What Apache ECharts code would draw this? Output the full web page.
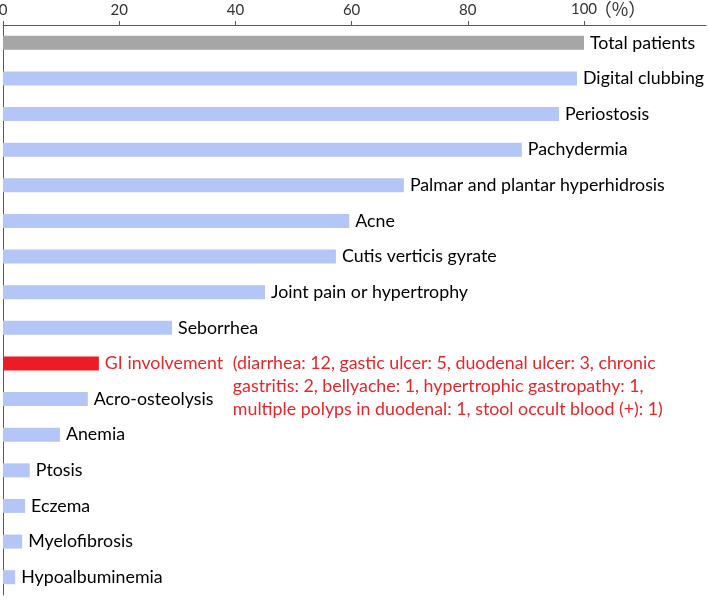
<!DOCTYPE html>
<html>
<head>
<meta charset="utf-8">
<script src="https://cdn.jsdelivr.net/npm/echarts@6/dist/echarts.min.js"></script>
<style>html,body{margin:0;padding:0;background:#fff}#c{width:709px;height:615px}</style>
</head>
<body>
<div id="c"></div>
<script>
const categories = ['Total patients','Digital clubbing','Periostosis','Pachydermia','Palmar and plantar hyperhidrosis','Acne','Cutis verticis gyrate','Joint pain or hypertrophy','Seborrhea','GI involvement','Acro-osteolysis','Anemia','Ptosis','Eczema','Myelofibrosis','Hypoalbuminemia'];
const values = [100, 98.8, 95.7, 89.3, 69.0, 59.6, 57.3, 45.1, 29.1, 16.5, 14.6, 9.8, 4.6, 3.8, 3.3, 2.1];
const xTicks = [0, 20, 40, 60, 80, 100];
const giDetails = ['(diarrhea: 12, gastic ulcer: 5, duodenal ulcer: 3, chronic','gastritis: 2, bellyache: 1, hypertrophic gastropathy: 1,','multiple polyps in duodenal: 1, stool occult blood (+): 1)'];

const FONT = 'Lato';
const FS = 17.8;
const AFS = 15;
const data = categories.map((name, i) => {
  let color = '#b4c6f6';
  if (name === 'Total patients') color = '#a6a6a6';
  if (name === 'GI involvement') color = '#ec1c24';
  const item = { value: values[i], itemStyle: { color } };
  if (name === 'GI involvement') {
    item.label = {
      formatter: '{a|GI involvement}{b|' + giDetails[0] + '}\n{c|' + giDetails[1] + '}\n{c|' + giDetails[2] + '}',
      offset: [0, 23],
      rich: {
        a: { color: '#e8262a', fontFamily: FONT, fontSize: FS, width: 128, lineHeight: 23 },
        b: { color: '#e8262a', fontFamily: FONT, fontSize: FS, lineHeight: 23 },
        c: { color: '#e8262a', fontFamily: FONT, fontSize: FS, lineHeight: 23, padding: [0, 0, 0, 128] }
      }
    };
  }
  return item;
});

const chart = echarts.init(document.getElementById('c'), null, { renderer: 'canvas' });
chart.setOption({
  animation: false,
  grid: { left: 3, right: 3, top: 25, bottom: 20, containLabel: false, outerBoundsMode: 'none' },
  xAxis: {
    type: 'value', position: 'top', min: 0, max: 121, interval: 20,
    axisLine: { show: true, lineStyle: { color: '#595959', width: 1 } },
    axisTick: { show: true, length: 4, customValues: xTicks, lineStyle: { color: '#595959' } },
    splitLine: { show: false },
    axisLabel: {
      customValues: xTicks, margin: 7, color: '#333', fontFamily: FONT, fontSize: AFS,
      formatter: v => v === 100 ? '{s|}{n|100}{p|（%）}' : String(v),
      rich: {
        s: { width: 46, fontFamily: FONT, fontSize: AFS },
        n: { fontFamily: FONT, fontSize: AFS, color: '#333' },
        p: { width: 46, fontFamily: 'Noto Sans CJK JP', fontSize: 18, color: '#333' }
      }
    }
  },
  yAxis: {
    type: 'category', data: categories, inverse: true,
    axisLine: { show: true, lineStyle: { color: '#595959', width: 1 } },
    axisTick: { show: false }, axisLabel: { show: false }
  },
  series: [{
    type: 'bar', data, barWidth: 14,
    label: { show: true, position: 'right', distance: 6, color: '#000', fontFamily: FONT, fontSize: FS, formatter: p => p.name }
  }]
});
</script>
</body>
</html>
